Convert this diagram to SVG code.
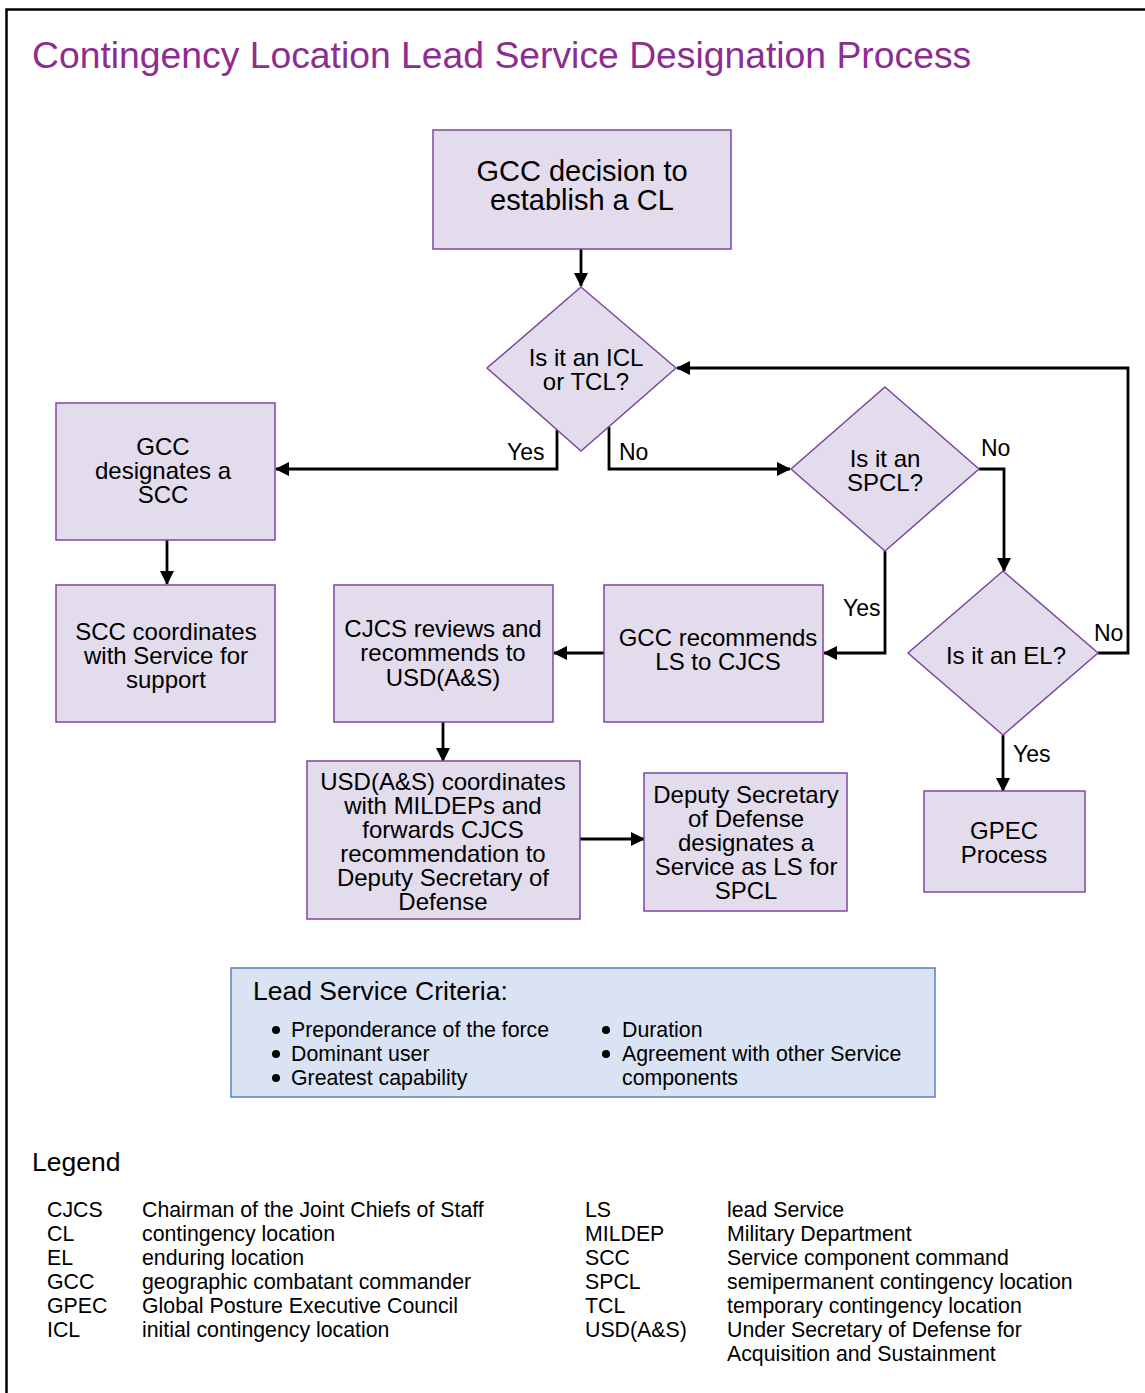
<svg xmlns="http://www.w3.org/2000/svg" width="1145" height="1393" viewBox="0 0 1145 1393">
<style>
text{font-family:"Liberation Sans",Arial,sans-serif;fill:#000}
.box{fill:#E2DCEC;stroke:#8046A0;stroke-width:1.5}
.t{font-size:24px;text-anchor:middle}
.big{font-size:29px;text-anchor:middle}
.lbl{font-size:23px}
.conn{fill:none;stroke:#000;stroke-width:2.8}
.sm{font-size:21.3px}
.hd{font-size:26.5px}
</style>
<defs>
<marker id="ah" viewBox="0 0 14 14" refX="13" refY="7" markerWidth="14" markerHeight="14" markerUnits="userSpaceOnUse" orient="auto">
<path d="M0,0 L14,7 L0,14 z" fill="#000"/>
</marker>
</defs>
<rect width="1145" height="1393" fill="#fff"/>
<path d="M6.5,1400 V9.5 H1150" fill="none" stroke="#000" stroke-width="2.5"/>
<text x="32" y="68" font-size="37.3" style="fill:#8E2D91">Contingency Location Lead Service Designation Process</text>

<g id="connectors">
<path class="conn" d="M581,249 V286" marker-end="url(#ah)"/>
<path class="conn" d="M557,430 V469 H276" marker-end="url(#ah)"/>
<path class="conn" d="M609,427 V469 H790" marker-end="url(#ah)"/>
<path class="conn" d="M167,540 V584" marker-end="url(#ah)"/>
<path class="conn" d="M979,469 H1004 V571" marker-end="url(#ah)"/>
<path class="conn" d="M885,551 V653 H824" marker-end="url(#ah)"/>
<path class="conn" d="M1098,653 H1128 V368 H677" marker-end="url(#ah)"/>
<path class="conn" d="M1003,735 V791" marker-end="url(#ah)"/>
<path class="conn" d="M604,653 H554" marker-end="url(#ah)"/>
<path class="conn" d="M443,722 V761" marker-end="url(#ah)"/>
<path class="conn" d="M580,839 H644" marker-end="url(#ah)"/>
<text class="lbl" x="507" y="460">Yes</text>
<text class="lbl" x="619" y="460">No</text>
<text class="lbl" x="981" y="456">No</text>
<text class="lbl" x="843" y="616">Yes</text>
<text class="lbl" x="1094" y="641">No</text>
<text class="lbl" x="1013" y="762">Yes</text>
</g>

<g id="n-start">
<rect class="box" x="433" y="130" width="298" height="119"/>
<text class="big" x="582" y="181">GCC decision to</text>
<text class="big" x="582" y="210">establish a CL</text>
</g>
<g id="n-icl">
<path class="box" d="M581,287 L676,368 L581,451 L487,368 Z"/>
<text class="t" x="586" y="366">Is it an ICL</text>
<text class="t" x="586" y="390">or TCL?</text>
</g>
<g id="n-gccscc">
<rect class="box" x="56" y="403" width="219" height="137"/>
<text class="t" x="163" y="455">GCC</text>
<text class="t" x="163" y="479">designates a</text>
<text class="t" x="163" y="503">SCC</text>
</g>
<g id="n-scccoord">
<rect class="box" x="56" y="585" width="219" height="137"/>
<text class="t" x="166" y="640">SCC coordinates</text>
<text class="t" x="166" y="664">with Service for</text>
<text class="t" x="166" y="688">support</text>
</g>
<g id="n-spcl">
<path class="box" d="M885,387 L979,469 L885,551 L791,469 Z"/>
<text class="t" x="885" y="467">Is it an</text>
<text class="t" x="885" y="491">SPCL?</text>
</g>
<g id="n-el">
<path class="box" d="M1003,571 L1098,653 L1003,735 L908,653 Z"/>
<text class="t" x="1006" y="664">Is it an EL?</text>
</g>
<g id="n-gpec">
<rect class="box" x="924" y="791" width="161" height="101"/>
<text class="t" x="1004" y="839">GPEC</text>
<text class="t" x="1004" y="863">Process</text>
</g>
<g id="n-gccrec">
<rect class="box" x="604" y="585" width="219" height="137"/>
<text class="t" x="718" y="646">GCC recommends</text>
<text class="t" x="718" y="670">LS to CJCS</text>
</g>
<g id="n-cjcs">
<rect class="box" x="334" y="585" width="219" height="137"/>
<text class="t" x="443" y="637">CJCS reviews and</text>
<text class="t" x="443" y="661">recommends to</text>
<text class="t" x="443" y="686">USD(A&amp;S)</text>
</g>
<g id="n-usd">
<rect class="box" x="307" y="761" width="273" height="158"/>
<text class="t" x="443" y="790">USD(A&amp;S) coordinates</text>
<text class="t" x="443" y="814">with MILDEPs and</text>
<text class="t" x="443" y="838">forwards CJCS</text>
<text class="t" x="443" y="862">recommendation to</text>
<text class="t" x="443" y="886">Deputy Secretary of</text>
<text class="t" x="443" y="910">Defense</text>
</g>
<g id="n-dsd">
<rect class="box" x="644" y="773" width="203" height="138"/>
<text class="t" x="746" y="803">Deputy Secretary</text>
<text class="t" x="746" y="827">of Defense</text>
<text class="t" x="746" y="851">designates a</text>
<text class="t" x="746" y="875">Service as LS for</text>
<text class="t" x="746" y="899">SPCL</text>
</g>

<g id="criteria">
<rect x="231" y="968" width="704" height="129" fill="#DAE3F3" stroke="#5B80C0" stroke-width="1.5"/>
<text class="hd" x="253" y="1000">Lead Service Criteria:</text>
<circle cx="276" cy="1030" r="4"/>
<circle cx="276" cy="1054" r="4"/>
<circle cx="276" cy="1078" r="4"/>
<circle cx="606" cy="1030" r="4"/>
<circle cx="606" cy="1054" r="4"/>
<text class="sm" x="291" y="1037">Preponderance of the force</text>
<text class="sm" x="291" y="1061">Dominant user</text>
<text class="sm" x="291" y="1085">Greatest capability</text>
<text class="sm" x="622" y="1037">Duration</text>
<text class="sm" x="622" y="1061">Agreement with other Service</text>
<text class="sm" x="622" y="1085">components</text>
</g>

<g id="legend">
<text class="hd" x="32" y="1171">Legend</text>
<text class="sm" x="47" y="1217">CJCS</text>
<text class="sm" x="47" y="1241">CL</text>
<text class="sm" x="47" y="1265">EL</text>
<text class="sm" x="47" y="1289">GCC</text>
<text class="sm" x="47" y="1313">GPEC</text>
<text class="sm" x="47" y="1337">ICL</text>
<text class="sm" x="142" y="1217">Chairman of the Joint Chiefs of Staff</text>
<text class="sm" x="142" y="1241">contingency location</text>
<text class="sm" x="142" y="1265">enduring location</text>
<text class="sm" x="142" y="1289">geographic combatant commander</text>
<text class="sm" x="142" y="1313">Global Posture Executive Council</text>
<text class="sm" x="142" y="1337">initial contingency location</text>
<text class="sm" x="585" y="1217">LS</text>
<text class="sm" x="585" y="1241">MILDEP</text>
<text class="sm" x="585" y="1265">SCC</text>
<text class="sm" x="585" y="1289">SPCL</text>
<text class="sm" x="585" y="1313">TCL</text>
<text class="sm" x="585" y="1337">USD(A&amp;S)</text>
<text class="sm" x="727" y="1217">lead Service</text>
<text class="sm" x="727" y="1241">Military Department</text>
<text class="sm" x="727" y="1265">Service component command</text>
<text class="sm" x="727" y="1289">semipermanent contingency location</text>
<text class="sm" x="727" y="1313">temporary contingency location</text>
<text class="sm" x="727" y="1337">Under Secretary of Defense for</text>
<text class="sm" x="727" y="1361">Acquisition and Sustainment</text>
</g>
</svg>
